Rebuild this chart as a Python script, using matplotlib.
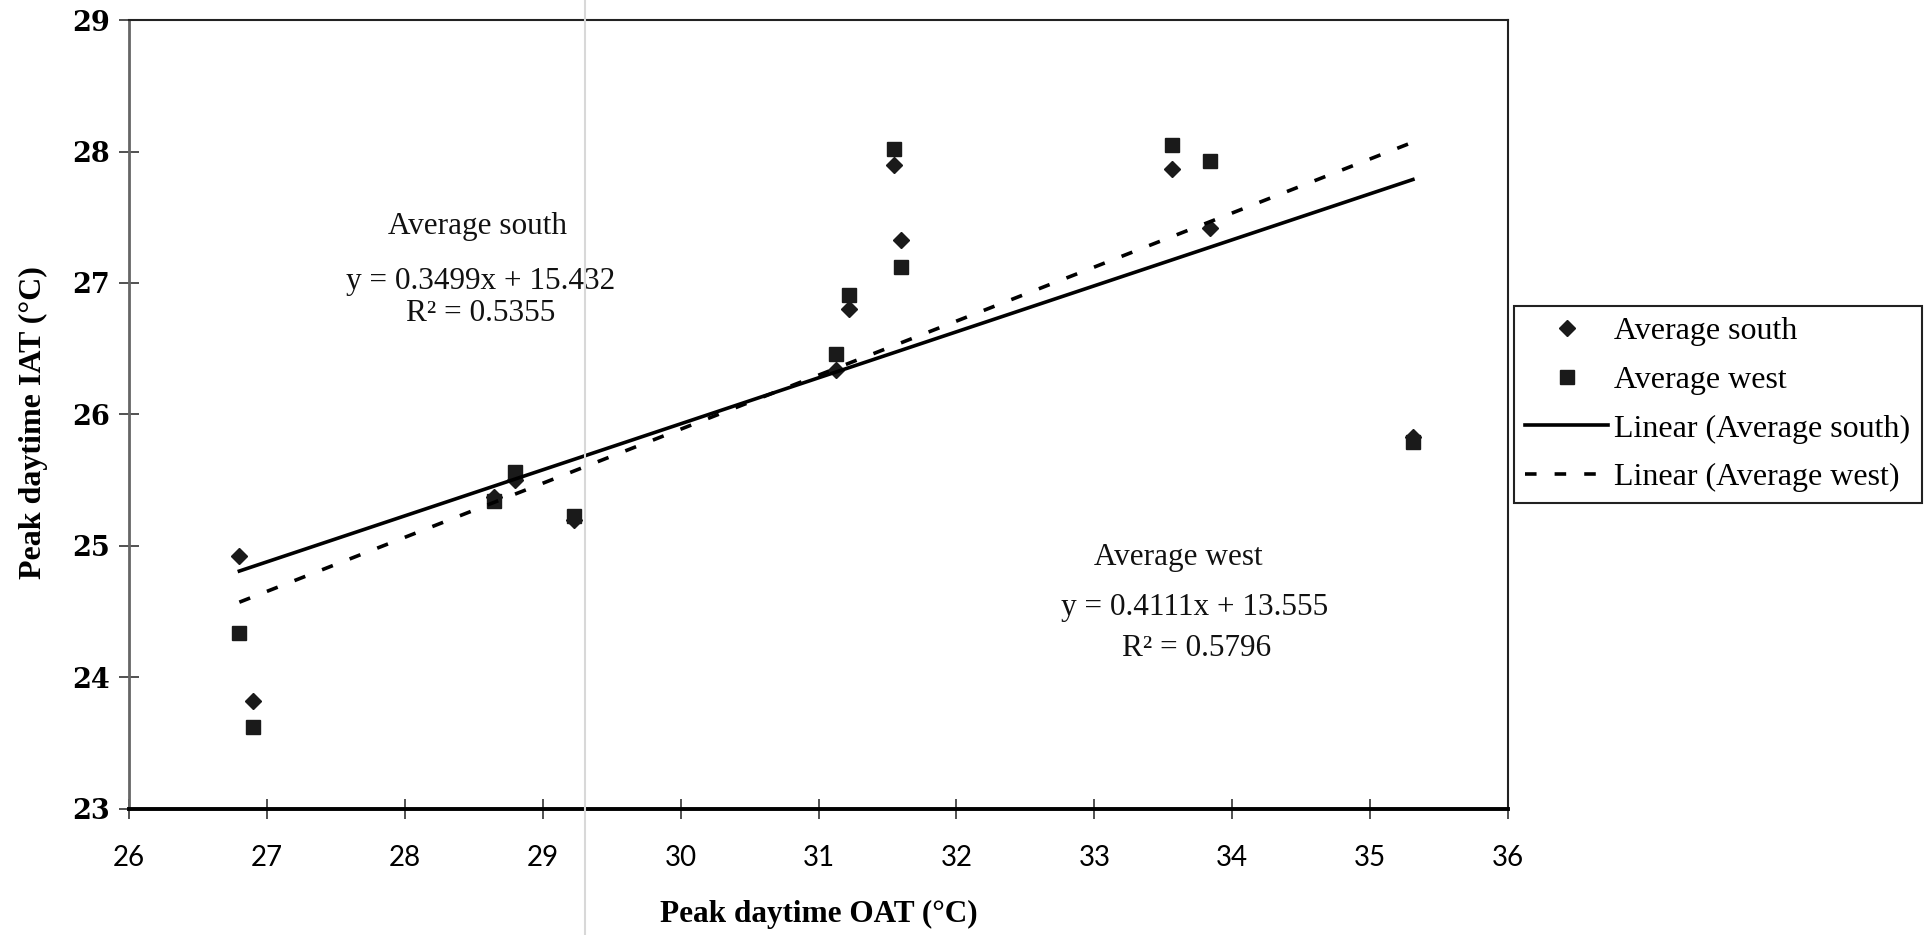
import numpy as np
import matplotlib
matplotlib.use("Agg")
import matplotlib.pyplot as plt
from matplotlib.lines import Line2D

# Peak daytime outdoor air temperature (x) and indoor air temperature (y)
oat = [26.8, 26.9, 28.65, 28.8, 29.23, 31.13, 31.22, 31.55, 31.6, 33.56, 33.84, 35.31]
south = [24.92, 23.82, 25.37, 25.50, 25.20, 26.34, 26.80, 27.90, 27.33, 27.87, 27.42, 25.83]
west = [24.34, 23.62, 25.34, 25.56, 25.23, 26.46, 26.91, 28.02, 27.12, 28.05, 27.93, 25.79]

# Linear trendlines as reported on the chart
south_fit = (0.3499, 15.432, 0.5355)
west_fit = (0.4111, 13.555, 0.5796)

x_ticks = [26, 27, 28, 29, 30, 31, 32, 33, 34, 35, 36]
y_ticks = [23, 24, 25, 26, 27, 28, 29]

SERIF = "Liberation Serif"

fig = plt.figure(figsize=(19.26, 9.35), dpi=100)
ax = fig.add_axes([0.067, 0.1348, 0.716, 0.8438])

ax.plot(oat, south, ls="none", marker="D", ms=8.5, color="#1a1a1a",
        label="Average south", zorder=3)
ax.plot(oat, west, ls="none", marker="s", ms=10, color="#1a1a1a",
        label="Average west", zorder=3)

xs = np.array([min(oat), max(oat)])
ax.plot(xs, south_fit[0] * xs + south_fit[1], color="black", lw=2.6,
        label="Linear (Average south)", zorder=4)
ax.plot(xs, west_fit[0] * xs + west_fit[1], color="black", lw=2.6,
        ls=(0, (3.2, 5.0)), label="Linear (Average west)", zorder=4)

ax.set_xlim(26, 36)
ax.set_ylim(23, 29)
ax.set_xticks(x_ticks)
ax.set_yticks(y_ticks)
ax.set_xticklabels([str(t) for t in x_ticks], fontfamily="Lato", fontsize=20)
ax.set_yticklabels([str(t) for t in y_ticks], fontfamily="DejaVu Serif",
                   fontweight="bold", fontsize=19.5)
ax.tick_params(axis="both", direction="inout", length=14, width=1.2, color="#333333")
ax.tick_params(axis="x", pad=19)
ax.tick_params(axis="y", pad=7)

for side in ["top", "right"]:
    ax.spines[side].set_linewidth(1.5)
    ax.spines[side].set_color("#222222")
ax.spines["bottom"].set_linewidth(2.8)
ax.spines["bottom"].set_color("black")
ax.spines["left"].set_linewidth(2)
ax.spines["left"].set_color("#666666")

ax.set_xlabel("Peak daytime OAT (\u00b0C)", fontfamily=SERIF, fontweight="bold",
              fontsize=22.5, va="center")
ax.xaxis.set_label_coords(0.5, -0.134)
ax.set_ylabel("Peak daytime IAT (\u00b0C)", fontfamily=SERIF, fontweight="bold",
              fontsize=23, va="center", ha="center")
ax.yaxis.set_label_coords(-0.069, 0.49)

# trendline annotations
txt = dict(fontfamily=SERIF, fontsize=22.5, ha="center", va="center", color="#111111")
ax.text(28.53, 27.43, "Average south", **txt)
ax.text(28.55, 27.01, f"y = {south_fit[0]}x + {south_fit[1]}", **txt)
ax.text(28.55, 26.77, f"R\u00b2 = {south_fit[2]}", **txt)
ax.text(33.61, 24.91, "Average west", **txt)
ax.text(33.73, 24.53, f"y = {west_fit[0]}x + {west_fit[1]}", **txt)
ax.text(33.74, 24.22, f"R\u00b2 = {west_fit[2]}", **txt)

leg = ax.legend(loc="upper left", bbox_to_anchor=(0.786, 0.6728),
                bbox_transform=fig.transFigure, borderaxespad=0,
                prop={"family": SERIF, "size": 23}, numpoints=1,
                handlelength=2.6, handletextpad=0.2, labelspacing=0.6,
                borderpad=0.35, fancybox=False, framealpha=1)
leg.get_frame().set_edgecolor("#222222")
leg.get_frame().set_linewidth(1.5)

# faint vertical scan line from the original figure
fig.add_artist(Line2D([0.3035, 0.3035], [0, 1], transform=fig.transFigure,
                      color="#d8d8d8", lw=1.5, zorder=1))

fig.savefig("out.png", dpi=100)
